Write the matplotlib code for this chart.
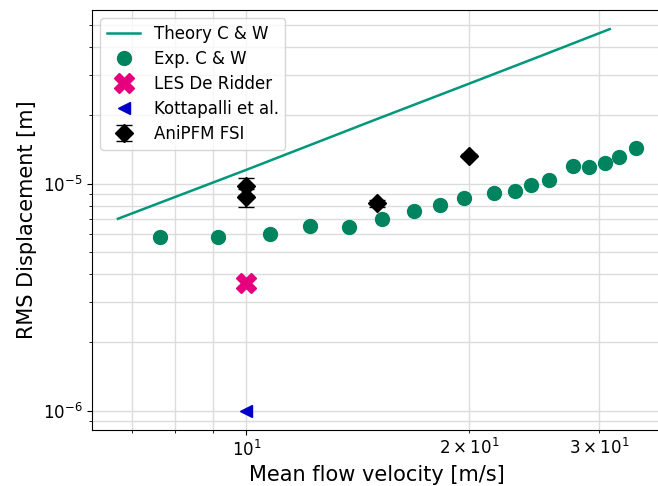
import matplotlib
matplotlib.use("Agg")
import matplotlib.pyplot as plt

# Theory C & W
v_theory = [6.7, 10, 15, 20, 25, 31]
d_theory = [7.0e-6, 1.15e-5, 1.92e-5, 2.75e-5, 3.64e-5, 4.78e-5]

# Exp. C & W
v_exp = [7.63, 9.14, 10.77, 12.2, 13.77, 15.25, 16.84, 18.26, 19.67, 21.59,
         23.05, 24.22, 25.69, 27.67, 29.08, 30.56, 31.92, 33.65]
d_exp = [5.80e-6, 5.80e-6, 5.98e-6, 6.48e-6, 6.42e-6, 6.97e-6, 7.55e-6, 8.03e-6,
         8.63e-6, 9.08e-6, 9.26e-6, 9.85e-6, 1.036e-5, 1.195e-5, 1.183e-5,
         1.232e-5, 1.31e-5, 1.436e-5]

# LES De Ridder
v_les = [10]
d_les = [3.67e-6]

# Kottapalli et al.
v_kot = [10]
d_kot = [1.0e-6]

# AniPFM FSI
v_fsi = [10, 10, 15, 20]
d_fsi = [9.75e-6, 8.7e-6, 8.2e-6, 1.323e-5]
err_fsi = [0.8e-6, 0.8e-6, 0.3e-6, 0.2e-6]

fig = plt.figure(figsize=(6.58, 4.86), dpi=100)
ax = fig.add_axes([92 / 658, 56 / 486, 570 / 658, 420 / 486])

ax.plot(v_theory, d_theory, color="#00977a", lw=1.8, label="Theory C & W")
ax.plot(v_exp, d_exp, "o", color="#00835f", ms=10, label="Exp. C & W")
ax.plot(v_les, d_les, "X", color="#e6007e", ms=15, label="LES De Ridder")
ax.plot(v_kot, d_kot, "<", color="#0000c8", ms=9, label="Kottapalli et al.")
ax.errorbar(v_fsi, d_fsi, yerr=err_fsi, fmt="D", color="black", ms=9,
            capsize=6, label="AniPFM FSI")

ax.set_xscale("log")
ax.set_yscale("log")
ax.grid(which="both", color="#dcdcdc", lw=1)
ax.set_axisbelow(True)
ax.tick_params(which="both", labelsize=12)
ax.set_xlabel("Mean flow velocity [m/s]", fontsize=15)
ax.set_ylabel("RMS Displacement [m]", fontsize=15)
ax.legend(loc="upper left", fontsize=12, labelspacing=0.42)

fig.savefig("out.png", dpi=100)
